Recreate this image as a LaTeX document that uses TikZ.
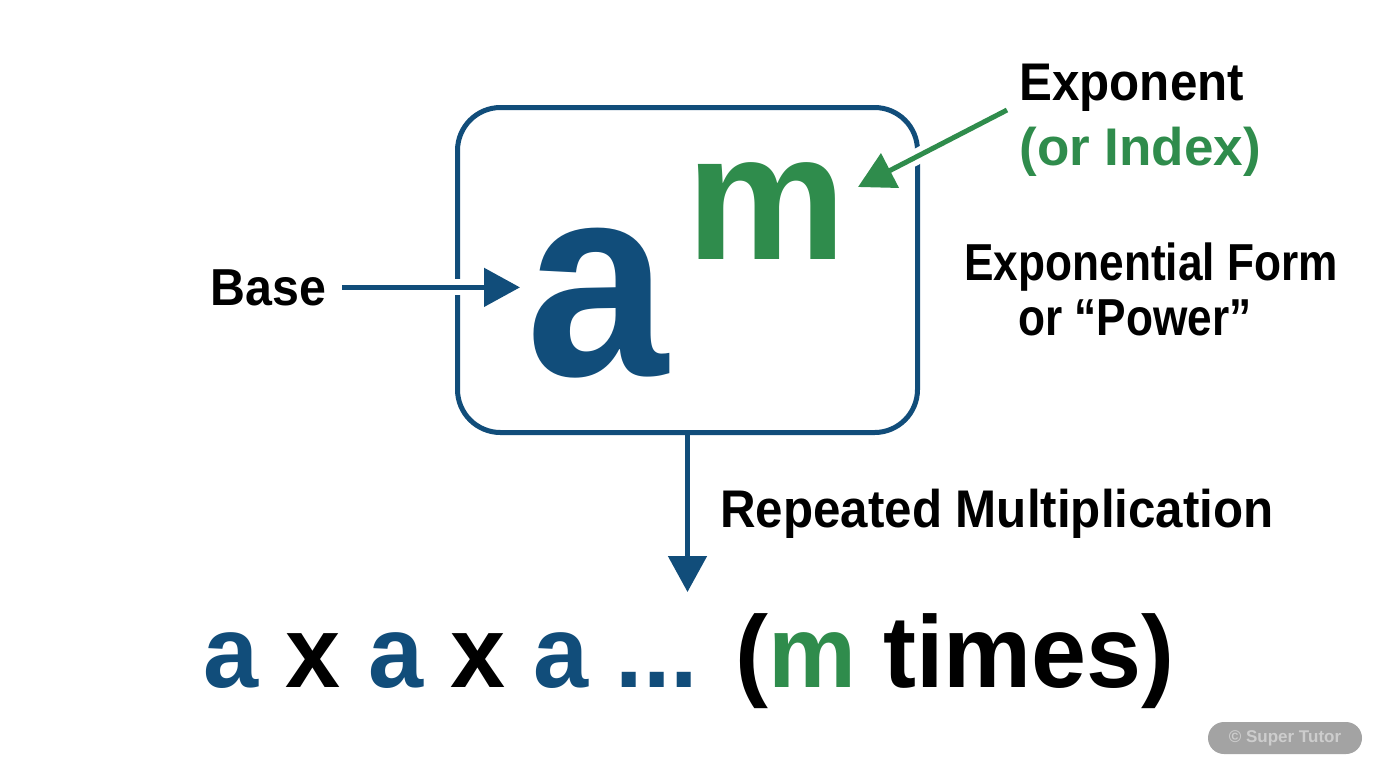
\documentclass[tikz,border=0pt]{standalone}
\usepackage{fontspec}
\setmainfont{Liberation Sans}
\newfontfamily\widefont{Liberation Sans}[FakeStretch=0.93]
\newfontfamily\narrowfont{Liberation Sans}[FakeStretch=0.85]
\newfontfamily\letterfont{Liberation Sans}[FakeStretch=0.97]
\usetikzlibrary{positioning, arrows.meta}

\definecolor{baseblue}{RGB}{17,77,122}
\definecolor{expgreen}{RGB}{47,140,76}
\definecolor{stampgray}{RGB}{163,163,163}
\definecolor{stamptext}{RGB}{205,205,205}

\begin{document}
\begin{tikzpicture}[x=0.5pt, y=-0.5pt,
            frame/.style={draw=baseblue, line width=2.5pt, rounded corners=21.5pt, minimum width=230pt, minimum height=162.5pt, inner sep=0pt},
            textlabel/.style={inner sep=0pt, anchor=base west, font=\widefont\fontsize{26.5}{30}\selectfont\bfseries},
            bigletter/.style={inner sep=0pt, anchor=base west},
            arrowline/.style={line width=2.5pt, -{Triangle[length=18pt, width=19pt]}},
            halo/.style={preaction={draw=white, line width=8pt, -}},
            stamp/.style={fill=stampgray, rounded corners=8pt, minimum width=77pt, minimum height=16pt, inner sep=0pt, text=stamptext, font=\fontsize{8.5}{10}\selectfont\bfseries}
        ]

        % Rahmen
        \useasboundingbox[fill=white] (0,0) rectangle (1376,768);
        \node[frame] (box) at (687.5,270) {};

        % Basis und Exponent
        \node[bigletter, text=baseblue, font=\widefont\fontsize{137}{150}\selectfont\bfseries] (a) at (526,375) {a};
        \node[bigletter, text=expgreen, font=\fontsize{90}{100}\selectfont\bfseries] (m) at (686,259) {m};

        % Beschriftungen
        \node[textlabel, font=\widefont\fontsize{26}{30}\selectfont\bfseries] (base) at (210,305) {Base};
        \node[textlabel] (exponent) at (1019,100) {Exponent};
        \node[textlabel, text=expgreen, font=\fontsize{26.5}{30}\selectfont\bfseries] (index) at ([yshift=-32.5pt]exponent.base west) {(or Index)};
        \node[textlabel, font=\narrowfont\fontsize{26}{30}\selectfont\bfseries] (form) at (964,280) {Exponential Form};
        \node[textlabel, font=\narrowfont\fontsize{26}{30}\selectfont\bfseries] (power) at ([xshift=27pt, yshift=-27.5pt]form.base west) {or “Power”};
        \node[textlabel] (repeat) at (720,527) {Repeated Multiplication};

        % Zeile unten
        \node[textlabel, font=\letterfont\fontsize{51}{60}\selectfont\bfseries] (line) at (203,687)
            {\textcolor{baseblue}{a} x \textcolor{baseblue}{a} x \textcolor{baseblue}{a} \textcolor{baseblue}{...} (\textcolor{expgreen}{m} times)};

        % Pfeile
        \coordinate (expstart) at (1007,110);
        \coordinate (exptip) at (858,187);
        \coordinate (multtip) at (687.5,592);
        \draw[arrowline, halo, baseblue] ([xshift=8pt]base.east) -- ([xshift=-3pt]base.east -| a.west);
        \draw[arrowline, halo, expgreen] (expstart) -- (exptip);
        \draw[arrowline, baseblue] (box.south) -- (multtip);

        % Stempel
        \node[stamp] (tutor) at (1285,738) {© Super Tutor};

    \end{tikzpicture}
\end{document}
